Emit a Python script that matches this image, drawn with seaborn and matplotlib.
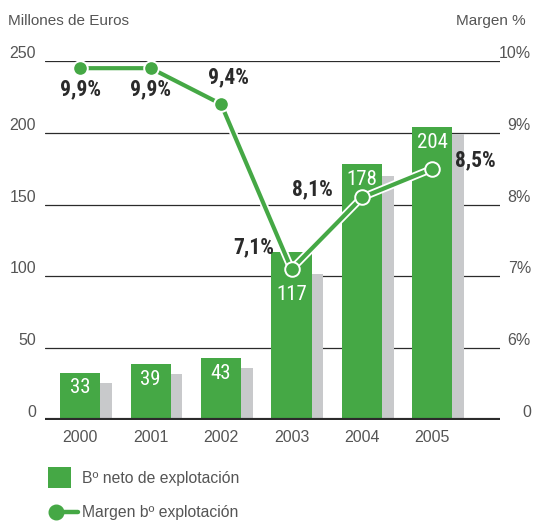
import numpy as np
import matplotlib
matplotlib.use("Agg")
import matplotlib.pyplot as plt
import seaborn as sns
from matplotlib import patheffects as pe
from matplotlib.patches import Rectangle
from matplotlib.lines import Line2D

# --- data -------------------------------------------------------------
years = ["2000", "2001", "2002", "2003", "2004", "2005"]
beneficio = [33, 39, 43, 117, 178, 204]            # Bº neto de explotación (M€)
beneficio_prev = [26, 32, 36, 102, 170, 199]       # grey shadow bars
margen = [9.9, 9.9, 9.4, 7.1, 8.1, 8.5]            # margen bº explotación (%)
margen_labels = ["9,9%", "9,9%", "9,4%", "7,1%", "8,1%", "8,5%"]
left_ticks = [0, 50, 100, 150, 200, 250]
right_ticks = [5, 6, 7, 8, 9, 10]
right_ticklabels = ["0", "6%", "7%", "8%", "9%", "10%"]

GREEN = "#45a845"
GREY = "#c8c9cb"
TXT = "#555555"
DARK = "#2b2b2b"

sns.set_theme(style="white")
plt.rcParams["font.family"] = ["Liberation Sans", "DejaVu Sans"]
NARROW = ["Roboto Condensed", "Liberation Sans Narrow", "Roboto", "DejaVu Sans"]

W, H = 537, 522
fig = plt.figure(figsize=(W / 100, H / 100), dpi=100)
ax = fig.add_axes([45 / W, 102 / H, 455 / W, 359 / H])

# grey bars sit just to the right of the green ones
sns.barplot(x=years, y=beneficio_prev, color=GREY, saturation=1, width=0.57, ax=ax)
for p in ax.patches:
    p.set_x(p.get_x() + 0.163)
n_grey = len(ax.patches)
sns.barplot(x=years, y=beneficio, color=GREEN, saturation=1, width=0.57, ax=ax)
green_bars = ax.patches[n_grey:]
for p in ax.patches:
    p.set_linewidth(0)

ax.set_xlim(-0.5, 5.96)
ax.set_ylim(0, 250)
ax.set_yticks(left_ticks)
ax.set_axisbelow(True)
ax.yaxis.grid(True, color=DARK, linewidth=0.9)
ax.xaxis.grid(False)
ax.axhline(0, color=DARK, linewidth=3, zorder=5)
for s in ax.spines.values():
    s.set_visible(False)
ax.set_xlabel("")
ax.set_ylabel("")
ax.tick_params(axis="y", length=0, pad=6.5, labelsize=11.5, labelcolor=TXT)
ax.tick_params(axis="x", length=0, pad=7, labelsize=11.5, labelcolor=TXT)
for lab in ax.get_yticklabels():
    lab.set_va("bottom")

# value labels inside the green bars (the 2003 one drops below the line marker)
bar_label_offsets = [-4, -4, -4, -24, -4, -4]
for p, v, dy in zip(green_bars, beneficio, bar_label_offsets):
    ax.annotate(str(v), (p.get_x() + p.get_width() / 2, v), xytext=(0, dy),
                textcoords="offset points", ha="center", va="top",
                color="white", fontsize=15, family=NARROW, zorder=6)

# margin line on a secondary axis
ax2 = ax.twinx()
ax2.set_ylim(5, 10)
xs = np.arange(len(years))
sns.lineplot(x=xs, y=margen, ax=ax2, color=GREEN, linewidth=3,
             path_effects=[pe.Stroke(linewidth=5.6, foreground="white"), pe.Normal()])
sns.lineplot(x=xs, y=margen, ax=ax2, linestyle="", marker="o", markersize=10.5,
             markerfacecolor=GREEN, markeredgecolor="white", markeredgewidth=1.4,
             color=GREEN)
for ln in ax2.lines[1:]:
    ln.set_zorder(4)
ax2.set_xlim(-0.5, 5.96)
ax2.set_yticks(right_ticks)
ax2.set_yticklabels(right_ticklabels)
ax2.tick_params(axis="y", length=0, pad=22.3, labelsize=11.5, labelcolor=TXT)
for lab in ax2.get_yticklabels():
    lab.set_ha("right")
    lab.set_va("bottom")
ax2.set_xlabel("")
ax2.set_ylabel("")
ax2.grid(False)
for s in ax2.spines.values():
    s.set_visible(False)

offsets = [(0, -15), (0, -15), (5, 19), (-27, 16), (-36, 6), (31, 6)]
for x, m, lab, off in zip(xs, margen, margen_labels, offsets):
    ax2.annotate(lab, (x, m), xytext=off, textcoords="offset points",
                 ha="center", va="center", color="#2a2a2a", fontsize=15.5,
                 family=NARROW, weight="bold")

# axis titles
fig.text(8 / W, 1 - 21 / H, "Millones de Euros", ha="left", va="center",
         fontsize=11, color=TXT)
fig.text(526 / W, 1 - 21 / H, "Margen %", ha="right", va="center",
         fontsize=11, color=TXT)

# legend
fig.add_artist(Rectangle((48 / W, 1 - 488 / H), 23 / W, 21 / H,
                         transform=fig.transFigure, color=GREEN, lw=0))
fig.add_artist(Line2D([56 / W, 78 / W], [1 - 512 / H] * 2,
                      transform=fig.transFigure, color=GREEN, lw=3.2))
fig.add_artist(Line2D([56 / W], [1 - 512 / H], transform=fig.transFigure,
                      marker="o", markersize=10.5, color=GREEN, lw=0))
fig.text(82 / W, 1 - 478 / H, "Bº neto de explotación", ha="left", va="center",
         fontsize=11.3, color=TXT)
fig.text(82 / W, 1 - 512 / H, "Margen bº explotación", ha="left", va="center",
         fontsize=11.3, color=TXT)

fig.savefig("out.png", dpi=100)
